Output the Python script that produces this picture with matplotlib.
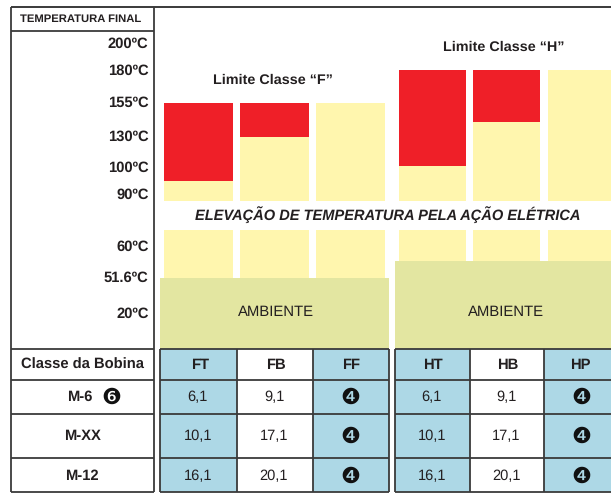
import numpy as np
import matplotlib.pyplot as plt
from matplotlib.patches import Rectangle

plt.rcParams['font.family'] = ['Liberation Sans', 'DejaVu Sans']
plt.rcParams['text.hinting'] = 'none'

# temperature scale (not linear, the chart has a break around 75C)
temps = [0, 20, 51.6, 60, 90, 100, 130, 155, 180, 200]
temp_labels = ["200ºC", "180ºC", "155ºC", "130ºC", "100ºC", "90ºC", "60ºC", "51.6ºC", "20ºC"]
temp_label_values = [200, 180, 155, 130, 100, 90, 60, 51.6, 20]
temp_pixels = [349, 313, 277.5, 246, 194, 167, 136.5, 102.7, 70.3, 43]

# bars
columns_f = ["FT", "FB", "FF"]
columns_h = ["HT", "HB", "HP"]
limit_f = 155
limit_h = 180
yellow_f = [94.8, 130, 155]
yellow_h = [101.3, 141, 180]
break_low = 69.2
break_high = 86
ambient_f = 51.6
ambient_h = 56

# table
rows = ["M-6", "M-XX", "M-12"]
values_t = ["6,1", "10,1", "16,1"]
values_b = ["9,1", "17,1", "20,1"]
note_4 = "\u2779"
note_6 = "\u277b"

RED = "#ef1f28"
YELLOW = "#fff6ae"
GREEN = "#e3e6a1"
BLUE = "#add8e6"
LINE = "#3a3a3a"
TEXT = "#231f20"


def ty(t):
    return np.interp(t, temps, temp_pixels)


fig = plt.figure(figsize=(6.11, 4.93), dpi=100)
ax = fig.add_axes([0, 0, 1, 1])
ax.set_xlim(0, 611)
ax.set_ylim(493, 0)
ax.axis("off")


def box(x0, x1, y0, y1, color):
    ax.add_patch(Rectangle((x0, y0), x1 - x0, y1 - y0, facecolor=color, edgecolor="none", zorder=1))


def line(x0, x1, y0, y1, lw=1.3):
    ax.plot([x0, x1], [y0, y1], color=LINE, lw=lw, solid_capstyle="butt", zorder=3)


# bars for both classes
bar_x_f = [(164, 233), (240, 309), (316, 385)]
bar_x_h = [(399, 466), (473, 540), (548, 611)]
for bar_x, yellow, limit in [(bar_x_f, yellow_f, limit_f), (bar_x_h, yellow_h, limit_h)]:
    for (x0, x1), v in zip(bar_x, yellow):
        box(x0, x1, ty(break_high), ty(v), YELLOW)
        box(x0, x1, ty(v), ty(limit), RED)
        box(x0, x1, ty(0), ty(break_low), YELLOW)

# ambient blocks
box(160, 389, ty(0), ty(ambient_f), GREEN)
box(395, 611, ty(0), ty(ambient_h), GREEN)
ax.text(275.5, 312, "AMBIENTE", fontsize=10.7, color=TEXT, ha="center", va="center", zorder=4)
ax.text(506, 312, "AMBIENTE", fontsize=10.7, color=TEXT, ha="center", va="center", zorder=4)

ax.text(273, 80.5, "Limite Classe “F”", fontsize=10.4, fontweight="bold", color=TEXT, ha="center", va="center")
ax.text(503.5, 47, "Limite Classe “H”", fontsize=10.4, fontweight="bold", color=TEXT, ha="center", va="center")
ax.text(387.5, 215, "ELEVAÇÃO DE TEMPERATURA PELA AÇÃO ELÉTRICA", fontsize=10.55, fontweight="bold",
        style="italic", color=TEXT, ha="center", va="center")

# left column
ax.text(80.5, 19, "TEMPERATURA FINAL", fontsize=8.1, fontweight="bold", color=TEXT, ha="center", va="center")
for lab, t in zip(temp_labels, temp_label_values):
    ax.text(148.5, ty(t) + 0.7, lab, fontsize=10.6, fontweight="bold", color=TEXT, ha="right", va="center")

# table fills
row_y = [349, 380, 414, 458, 492]
cols_f = [160, 236.5, 312.5, 389]
cols_h = [395, 469.5, 544, 612]
for cols in (cols_f, cols_h):
    box(cols[0], cols[1], row_y[0], row_y[-1], BLUE)
    box(cols[2], cols[3], row_y[0], row_y[-1], BLUE)

# grid lines
line(10.5, 611, 7, 7, 1.4)
line(10.5, 154, 30.5, 30.5)
line(10.5, 10.5, 7, 492)
line(154, 154, 7, 492)
for y in row_y:
    line(10.5, 154, y, y)
    line(160, 389, y, y)
    line(395, 611, y, y)
for x in cols_f + cols_h[:3]:
    line(x, x, row_y[0], row_y[-1])

# table text
header_y = 365
row_mid = [397, 436, 476]
ax.text(82, header_y, "Classe da Bobina", fontsize=10.6, fontweight="bold", color=TEXT, ha="center", va="center")
for cols, names, head_x, note_x in ((cols_f, columns_f, [200, 276, 351], 350.7), (cols_h, columns_h, [433, 508, 580], 581)):
    for i, name in enumerate(names):
        ax.text(head_x[i], header_y, name, fontsize=10.6, fontweight="bold",
                color=TEXT, ha="center", va="center", zorder=4)
    for j in range(len(rows)):
        ax.text((cols[0] + cols[1]) / 2 - 0.5, row_mid[j], values_t[j], fontsize=10.5, color=TEXT,
                ha="center", va="center", zorder=4)
        ax.text((cols[1] + cols[2]) / 2 - 0.5, row_mid[j], values_b[j], fontsize=10.5, color=TEXT,
                ha="center", va="center", zorder=4)
        ax.text(note_x, row_mid[j] + 1, note_4, family="DejaVu Sans", fontsize=16,
                color="#111111", ha="center", va="center", zorder=4)
for j, name in enumerate(rows):
    x = 80 if j == 0 else 82
    ax.text(x, row_mid[j], name, fontsize=10.6, fontweight="bold", color=TEXT, ha="center", va="center")
ax.text(111.5, row_mid[0] + 1, note_6, family="DejaVu Sans", fontsize=16, color="#111111", ha="center", va="center")

plt.savefig("out.png", dpi=100)
